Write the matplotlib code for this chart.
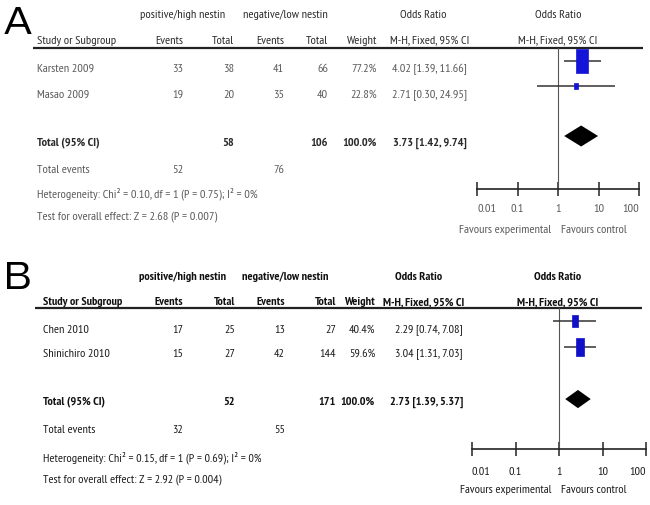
import matplotlib
matplotlib.use('Agg')
import matplotlib.pyplot as plt
from matplotlib.path import Path

plt.rcParams['font.family'] = ['PT Sans Narrow', 'Archivo Narrow', 'DejaVu Sans']

# ---- panel A data ----
studies_a = ['Karsten 2009', 'Masao 2009']
ev_hi_a = [33, 19]
tot_hi_a = [38, 20]
ev_lo_a = [41, 35]
tot_lo_a = [66, 40]
weight_a = [77.2, 22.8]
or_a = [4.02, 2.71]
lo_a = [1.39, 0.30]
hi_a = [11.66, 24.95]
total_a = {'tot_hi': 58, 'tot_lo': 106, 'or': 3.73, 'lo': 1.42, 'hi': 9.74,
           'ev_hi': 52, 'ev_lo': 76}
het_a = 'Heterogeneity: Chi² = 0.10, df = 1 (P = 0.75); I² = 0%'
test_a = 'Test for overall effect: Z = 2.68 (P = 0.007)'

# ---- panel B data ----
studies_b = ['Chen 2010', 'Shinichiro 2010']
ev_hi_b = [17, 15]
tot_hi_b = [25, 27]
ev_lo_b = [13, 42]
tot_lo_b = [27, 144]
weight_b = [40.4, 59.6]
or_b = [2.29, 3.04]
lo_b = [0.74, 1.31]
hi_b = [7.08, 7.03]
total_b = {'tot_hi': 52, 'tot_lo': 171, 'or': 2.73, 'lo': 1.39, 'hi': 5.37,
           'ev_hi': 32, 'ev_lo': 55}
het_b = 'Heterogeneity: Chi² = 0.15, df = 1 (P = 0.69); I² = 0%'
test_b = 'Test for overall effect: Z = 2.92 (P = 0.004)'

ticks = [0.01, 0.1, 1, 10, 100]
tick_labels = ['0.01', '0.1', '1', '10', '100']

W, H = 650, 506
fig = plt.figure(figsize=(W / 100, H / 100), dpi=100)
bg = fig.add_axes([0, 0, 1, 1])
bg.set_xlim(0, W)
bg.set_ylim(H, 0)
bg.axis('off')

rect_marker = Path([(-0.5, -1), (0.5, -1), (0.5, 1), (-0.5, 1), (-0.5, -1)],
                   [Path.MOVETO, Path.LINETO, Path.LINETO, Path.LINETO, Path.CLOSEPOLY])


def fmt_ci(o, l, h):
    return f'{o:.2f} [{l:.2f}, {h:.2f}]'


def draw_panel(letter, studies, ev_hi, tot_hi, ev_lo, tot_lo, weight, ors, los, his,
               total, het, test, lay):
    fs = lay['fs']
    hc, rc = lay['head_color'], lay['row_color']
    hw = lay['head_weight']
    cols = lay['cols']
    y = lay['rows_y']

    bg.text(4, lay['letter_y'], letter, fontsize=27,
            family=['Zalando Sans SemiExpanded', 'Liberation Sans'], va='center', ha='left')

    # headers
    h1, h2 = lay['head_y']
    bg.text(183, h1, 'positive/high nestin', fontsize=fs, color=hc, ha='center', va='center', weight=hw)
    bg.text(285, h1, 'negative/low nestin', fontsize=fs, color=hc, ha='center', va='center', weight=hw)
    bg.text(lay['or_head_x'], h1, 'Odds Ratio', fontsize=fs, color=hc, ha='center', va='center', weight=hw)
    bg.text(558, h1, 'Odds Ratio', fontsize=fs, color=hc, ha='center', va='center', weight=hw)
    bg.text(lay['left_x'], h2, 'Study or Subgroup', fontsize=fs, color=hc, ha='left', va='center', weight=hw)
    for lab, cx in zip(['Events', 'Total', 'Events', 'Total', 'Weight'], cols[:5]):
        bg.text(cx, h2, lab, fontsize=fs, color=hc, ha='right', va='center', weight=hw)
    bg.text(lay['ci_head_x'], h2, 'M-H, Fixed, 95% CI', fontsize=fs, color=hc, ha='center', va='center', weight=hw)
    bg.text(558, h2, 'M-H, Fixed, 95% CI', fontsize=fs, color=hc, ha='center', va='center', weight=hw)
    bg.hlines(lay['rule_y'], lay['rule_x'][0], lay['rule_x'][1], color='#222', lw=1.6)

    # study rows
    for i, s in enumerate(studies):
        vals = [ev_hi[i], tot_hi[i], ev_lo[i], tot_lo[i], f'{weight[i]:.1f}%',
                fmt_ci(ors[i], los[i], his[i])]
        bg.text(lay['left_x'], y[i], s, fontsize=fs, color=rc, ha='left', va='center')
        for v, cx in zip(vals, cols):
            bg.text(cx, y[i], str(v), fontsize=fs, color=rc, ha='right', va='center')

    # total row
    yt = y[2]
    bg.text(lay['left_x'], yt, 'Total (95% CI)', fontsize=fs, color=hc, ha='left', va='center', weight='bold')
    tvals = [(total['tot_hi'], cols[1]), (total['tot_lo'], cols[3]), ('100.0%', cols[4]),
             (fmt_ci(total['or'], total['lo'], total['hi']), cols[5])]
    for v, cx in tvals:
        bg.text(cx, yt, str(v), fontsize=fs, color=hc, ha='right', va='center', weight='bold')
    bg.text(lay['left_x'], y[3], 'Total events', fontsize=fs, color=rc, ha='left', va='center')
    bg.text(cols[0], y[3], str(total['ev_hi']), fontsize=fs, color=rc, ha='right', va='center')
    bg.text(cols[2], y[3], str(total['ev_lo']), fontsize=fs, color=rc, ha='right', va='center')
    bg.text(lay['left_x'], y[4], het, fontsize=fs, color=rc, ha='left', va='center')
    bg.text(lay['left_x'], y[5], test, fontsize=fs, color=rc, ha='left', va='center')

    # forest plot
    l, r, t, b = lay['forest']
    fa = fig.add_axes([l / W, 1 - b / H, (r - l) / W, (b - t) / H])
    fa.set_xscale('log')
    fa.set_xlim(0.01, 100)
    fa.set_ylim(lay['ylim'])
    fa.patch.set_alpha(0)
    for sp in ['top', 'left', 'right']:
        fa.spines[sp].set_visible(False)
    fa.spines['bottom'].set_linewidth(1.2)
    fa.spines['bottom'].set_color('#222')
    fa.set_yticks([])
    fa.set_xticks(ticks)
    fa.set_xticklabels(tick_labels)
    fa.minorticks_off()
    fa.tick_params(axis='x', direction='inout', length=10, width=1.1, color='#222',
                   labelsize=fs, labelcolor=rc, pad=lay['tick_pad'])
    tl = fa.get_xticklabels()
    tl[0].set_ha('left')
    tl[-1].set_ha('right')
    fa.axvline(1, color='#555', lw=0.8)

    rows = list(range(len(studies)))
    fa.hlines(rows, los, his, color='#333', lw=1.1)
    for i in rows:
        fa.plot(ors[i], i, marker=rect_marker, markersize=weight[i] * 0.3 * 0.72,
                color=lay['sq_color'], mec=lay['sq_color'], mew=0.5, ls='none')
    tr = len(studies) + 1
    dh = lay['diamond_h']
    fa.fill([total['lo'], total['or'], total['hi'], total['or']],
            [tr, tr - dh, tr, tr + dh], color='black', lw=0)

    fy = lay['fav_y']
    bg.text(551, fy, 'Favours experimental', fontsize=fs, color=rc, ha='right', va='center')
    bg.text(561, fy, 'Favours control', fontsize=fs, color=rc, ha='left', va='center')


lay_a = {
    'fs': 8.8, 'head_color': '#2a2a2a', 'row_color': '#5a5a5a', 'head_weight': 'normal',
    'letter_y': 24, 'head_y': (15, 41), 'left_x': 37,
    'cols': [183, 234, 284, 328, 377, 467], 'ci_head_x': 430, 'or_head_x': 423,
    'rule_y': 49, 'rule_x': (33, 643),
    'rows_y': [69, 95, 143, 170, 194, 217],
    'forest': (477, 639, 49, 190), 'ylim': (5.12, -0.52), 'diamond_h': 0.42,
    'fav_y': 230, 'sq_color': '#1414d8', 'tick_pad': 5,
}
lay_b = {
    'fs': 8.7, 'head_color': '#111111', 'row_color': '#1a1a1a', 'head_weight': 'bold',
    'letter_y': 279, 'head_y': (277, 302), 'left_x': 43,
    'cols': [183, 235, 285, 336, 375, 463], 'ci_head_x': 424, 'or_head_x': 419,
    'rule_y': 309, 'rule_x': (35, 642),
    'rows_y': [330, 354, 402, 430, 458, 480],
    'forest': (472, 646, 309, 450), 'ylim': (4.92, -0.5), 'diamond_h': 0.35,
    'fav_y': 490, 'sq_color': '#1010c8', 'tick_pad': 7,
}

draw_panel('A', studies_a, ev_hi_a, tot_hi_a, ev_lo_a, tot_lo_a, weight_a, or_a, lo_a, hi_a,
           total_a, het_a, test_a, lay_a)
draw_panel('B', studies_b, ev_hi_b, tot_hi_b, ev_lo_b, tot_lo_b, weight_b, or_b, lo_b, hi_b,
           total_b, het_b, test_b, lay_b)

fig.savefig('out.png', dpi=100)
